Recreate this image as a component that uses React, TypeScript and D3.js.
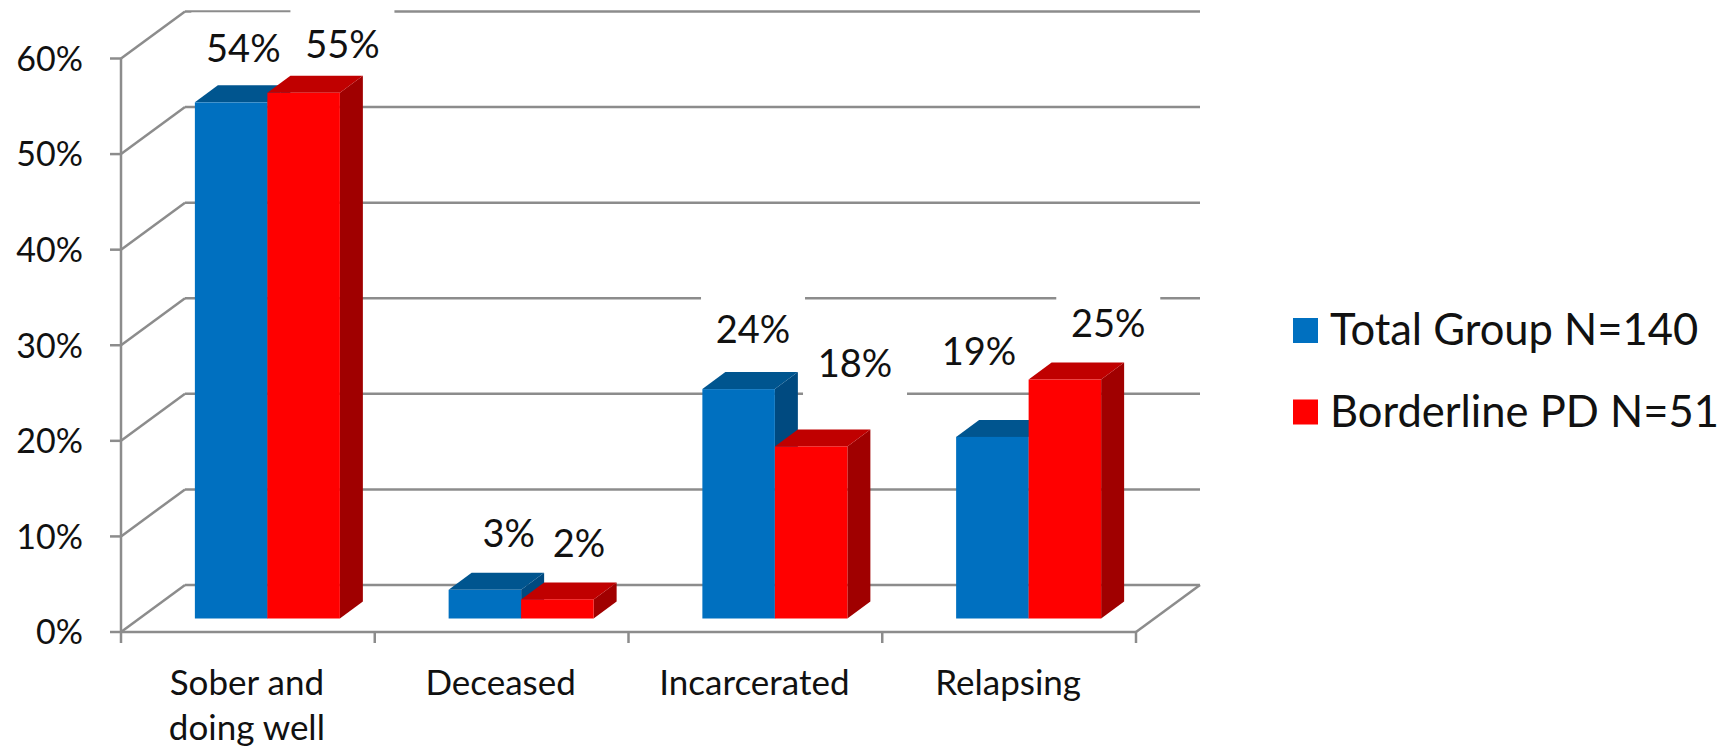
import React from "react";
import * as d3 from "d3";

const categoryLabels: string[][] = [["Sober and", "doing well"], ["Deceased"], ["Incarcerated"], ["Relapsing"]];
const categories = categoryLabels.map((l) => l.join(" "));
const seriesNames = ["Total Group N=140", "Borderline PD N=51"];
const totalGroup = [54, 3, 24, 19];
const borderlinePD = [55, 2, 18, 25];
const yTicks = [0, 10, 20, 30, 40, 50, 60];
const yTickLabels = ["0%", "10%", "20%", "30%", "40%", "50%", "60%"];

// label placement nudges (Excel auto-positioning), per series per category
const labelDx = [[0.7, 12.4, 2.9, -24.9], [27.3, 10.1, 32.4, 31.9]];
const labelDy = [[-23.5, -26, -29.4, -55], [-17.5, -25.7, -52.2, -25.8]];

const W = 1727;
const H = 748;
const FONT = "Lato, 'Open Sans', sans-serif";

const colors = [
  { front: "#0070C0", top: "#00558F", side: "#004A80" },
  { front: "#FF0000", top: "#C00000", side: "#A00000" },
];

export default function App() {
  const x0 = 121;
  const x1 = 1136;
  const depthX = 64;
  const depthY = -47;
  const barShiftX = 19.5;
  const barShiftY = -13.5;
  const barDX = 23;
  const barDY = -17;

  const y = d3.scaleLinear().domain([0, 60]).range([632, 58.5]);
  const xBand = d3.scaleBand<string>().domain(categories).range([x0, x1]).padding(0);
  const xInner = d3
    .scaleBand<string>()
    .domain(seriesNames)
    .range([0, xBand.bandwidth()])
    .paddingInner(0)
    .paddingOuter(0.75);

  const series = [totalGroup, borderlinePD];
  const gridColor = "#8c8c8c";
  const sw = 2.5;

  const bars: JSX.Element[] = [];
  const labels: JSX.Element[] = [];
  const boxes: JSX.Element[] = [];

  categories.forEach((c, ci) => {
    series.forEach((vals, si) => {
      const v = vals[ci];
      const bx = (xBand(c) as number) + (xInner(seriesNames[si]) as number) + barShiftX;
      const bw = xInner.bandwidth();
      const base = y(0) + barShiftY;
      const top = y(v) + barShiftY;
      const col = colors[si];
      const topPath = d3.path();
      topPath.moveTo(bx, top);
      topPath.lineTo(bx + barDX, top + barDY);
      topPath.lineTo(bx + bw + barDX, top + barDY);
      topPath.lineTo(bx + bw, top);
      topPath.closePath();
      const sidePath = d3.path();
      sidePath.moveTo(bx + bw, top);
      sidePath.lineTo(bx + bw + barDX, top + barDY);
      sidePath.lineTo(bx + bw + barDX, base + barDY);
      sidePath.lineTo(bx + bw, base);
      sidePath.closePath();
      bars.push(
        <g key={`b-${ci}-${si}`}>
          <path d={sidePath.toString()} fill={col.side} />
          <path d={topPath.toString()} fill={col.top} />
          <rect x={bx} y={top} width={bw} height={base - top} fill={col.front} />
        </g>
      );
      const lx = bx + bw / 2 + barDX / 2 + labelDx[si][ci];
      const ly = top + barDY + labelDy[si][ci];
      boxes.push(<rect key={`bx-${ci}-${si}`} x={lx - 52} y={ly - 49.5} width={104} height={71} fill="#fff" />);
      labels.push(
        <text key={`l-${ci}-${si}`} x={lx} y={ly} textAnchor="middle" fontSize={38} fill="#111">
          {`${v}%`}
        </text>
      );
    });
  });

  return (
    <svg
      width={W}
      height={H}
      style={{ position: "absolute", left: 0, top: 0, background: "#fff" }}
      fontFamily={FONT}
    >
      <rect x={0} y={0} width={W} height={H} fill="#fff" />
      {/* back wall gridlines and left wall */}
      {yTicks.map((t) => (
        <g key={`g-${t}`}>
          <line x1={x0 + depthX} x2={x1 + depthX} y1={y(t) + depthY} y2={y(t) + depthY} stroke={gridColor} strokeWidth={sw} />
          <line x1={x0} x2={x0 + depthX} y1={y(t)} y2={y(t) + depthY} stroke={gridColor} strokeWidth={sw} />
        </g>
      ))}
      {/* floor right edge */}
      <line x1={x1} y1={y(0)} x2={x1 + depthX} y2={y(0) + depthY} stroke={gridColor} strokeWidth={sw} />
      {boxes}
      {/* front axes */}
      <line x1={x0} x2={x0} y1={y(60)} y2={y(0) + 11} stroke={gridColor} strokeWidth={sw} />
      <line x1={x0} x2={x1} y1={y(0)} y2={y(0)} stroke={gridColor} strokeWidth={sw} />
      {yTicks.map((t) => (
        <line key={`yt-${t}`} x1={x0 - 11} x2={x0} y1={y(t)} y2={y(t)} stroke={gridColor} strokeWidth={sw} />
      ))}
      {categories.map((c, i) => (
        <line
          key={`xt-${i}`}
          x1={(xBand(c) as number) + xBand.bandwidth()}
          x2={(xBand(c) as number) + xBand.bandwidth()}
          y1={y(0)}
          y2={y(0) + 11}
          stroke={gridColor}
          strokeWidth={sw}
        />
      ))}
      {bars}
      {labels}
      {/* y tick labels */}
      {yTicks.map((t, i) => (
        <text key={`ytl-${t}`} x={83} y={y(t) + 12.3} textAnchor="end" fontSize={34} fill="#111">
          {yTickLabels[i]}
        </text>
      ))}
      {/* category labels */}
      {categoryLabels.map((lines, i) => (
        <text
          key={`cl-${i}`}
          x={(xBand(categories[i]) as number) + xBand.bandwidth() / 2 - 1}
          y={695}
          textAnchor="middle"
          fontSize={35}
          fill="#111"
        >
          {lines.map((ln, k) => (
            <tspan key={k} x={(xBand(categories[i]) as number) + xBand.bandwidth() / 2 - 1} dy={k === 0 ? 0 : 45}>
              {ln}
            </tspan>
          ))}
        </text>
      ))}
      {/* legend */}
      {seriesNames.map((s, i) => (
        <g key={`lg-${i}`} transform={`translate(1293, ${318 + i * 81.5})`}>
          <rect x={0} y={0} width={25} height={25} fill={colors[i].front} />
          <text x={37} y={27} fontSize={43.5} fill="#111">
            {s}
          </text>
        </g>
      ))}
    </svg>
  );
}
